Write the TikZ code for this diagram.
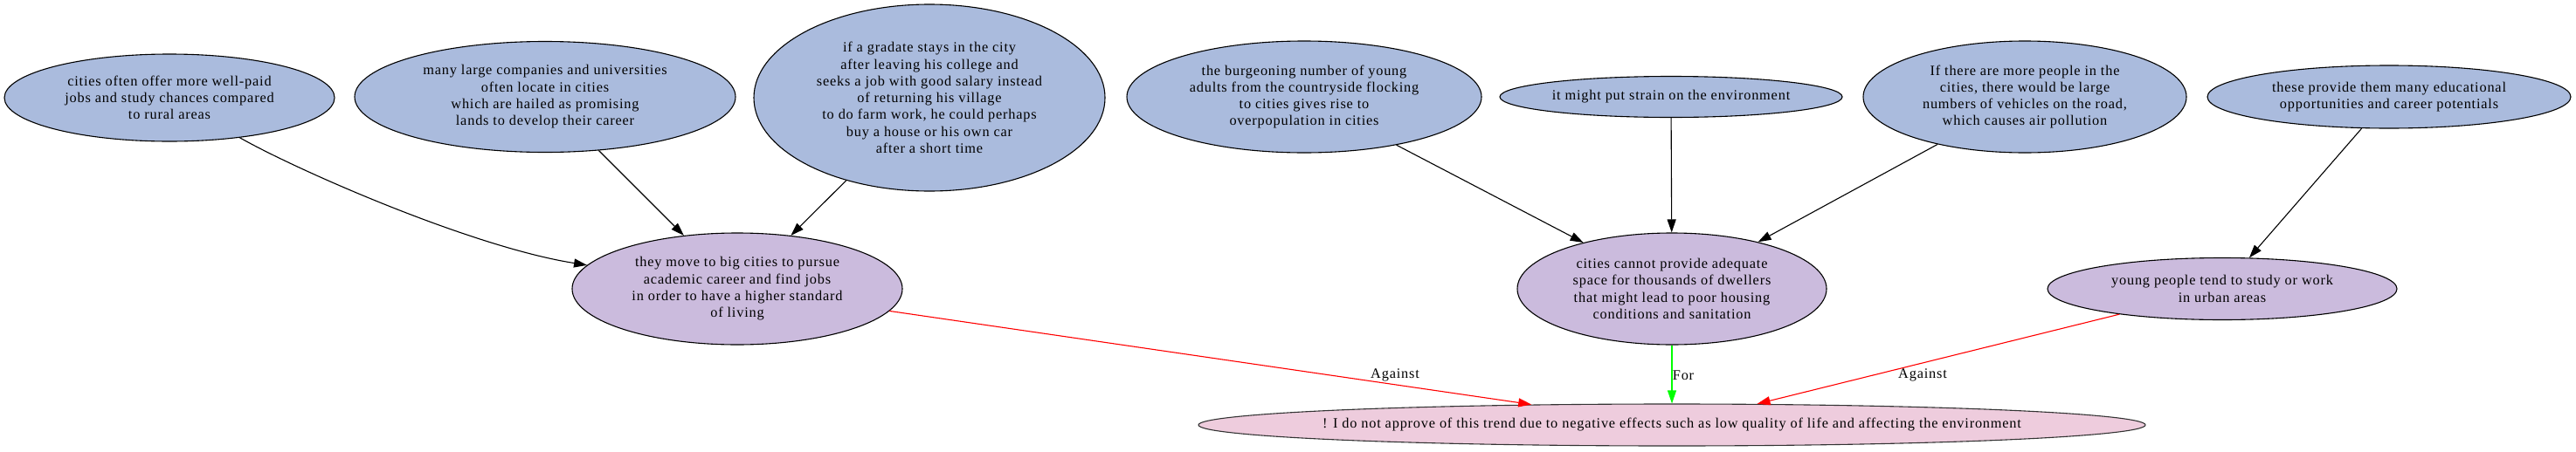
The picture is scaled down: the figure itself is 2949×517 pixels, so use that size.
\documentclass[tikz,border=0pt]{standalone}
\usepackage{fontspec}
\setmainfont{Liberation Serif}[LetterSpace=5]
\usetikzlibrary{shapes.geometric,arrows.meta}
\definecolor{topc}{RGB}{170,187,221}
\definecolor{midc}{RGB}{203,187,221}
\definecolor{finc}{RGB}{238,204,221}
\newcommand{\zb}[1]{\makebox[0pt]{#1}}
\begin{document}
\begin{tikzpicture}[x=1pt,y=-1pt,
  txt/.style={font=\fontsize{16.3}{19.3}\selectfont},
  ell/.style={ellipse,draw=black,line width=1.1pt,inner sep=0pt,align=center,txt},
  topn/.style={ell,fill=topc},
  midn/.style={ell,fill=midc},
  finn/.style={ell,fill=finc,draw=black!80},
  sz/.style 2 args={minimum width=#1pt,minimum height=#2pt},
  conn/.style={-{Triangle[length=15pt,width=10pt]},line width=1.1pt,draw=black},
  agn/.style={conn,draw=red},
  forn/.style={conn,draw=green},
  lbl/.style={txt,inner sep=0pt}]
\useasboundingbox (0,0) rectangle (2949,517);

\node[topn,sz={378}{100}] (A) at (194,112) {cities often offer more well-paid\\jobs and study chances compared\\to rural areas};
\node[topn,sz={436}{127}] (B) at (624,111) {many large companies and universities\\often locate in cities\\which are hailed as promising\\lands to develop their career};
\node[topn,sz={402}{214}] (C) at (1064,112) {if a gradate stays in the city\\after leaving his college and\\seeks a job with good salary instead\\of returning his village\\to do farm work, he could perhaps\\buy a house or his own car\\after a short time};
\node[topn,sz={406}{128}] (D) at (1493,111) {the burgeoning number of young\\adults from the countryside flocking\\to cities gives rise to\\overpopulation in cities};
\node[topn,sz={392}{47}] (E) at (1913,111) {it might put strain on the environment};
\node[topn,sz={370}{128}] (F) at (2318,111) {If there are more people in the\\cities, there would be large\\numbers of vehicles on the road,\\which causes air pollution};
\node[topn,sz={416}{72}] (G) at (2735,111) {these provide them many educational\\opportunities and career potentials};

\node[midn,sz={378}{128}] (they) at (844,331) {they move to big cities to pursue\\academic career and find jobs\\in order to have a higher standard\\of living};
\node[midn,sz={354}{128}] (cities) at (1914,331) {cities cannot provide adequate\\space for thousands of dwellers\\that might lead to poor housing\\conditions and sanitation};
\node[midn,sz={400}{71}] (young) at (2544,331) {young people tend to study or work\\in urban areas};

\node[finn,sz={1084}{48}] (final) at (1914,487) {\zb{! I do not approve of this trend due to negative effects such as low quality of life and affecting the environment}};

\draw[conn] (A) .. controls (340,195) and (540,283) .. (they);
\draw[conn] (B) -- (they);
\draw[conn] (C) -- (they);
\draw[conn] (D) -- (cities);
\draw[conn] (E) -- (cities);
\draw[conn] (F) -- (cities);
\draw[conn] (G) -- (young);

\draw[agn] (they) -- (final);
\draw[forn] (cities) -- (final);
\draw[agn] (young) -- (final);

\node[lbl] (l1) at (1597,430) {Against};
\node[lbl] (l2) at (1927,430) {For};
\node[lbl] (l3) at (2201,430) {Against};
\end{tikzpicture}
\end{document}
